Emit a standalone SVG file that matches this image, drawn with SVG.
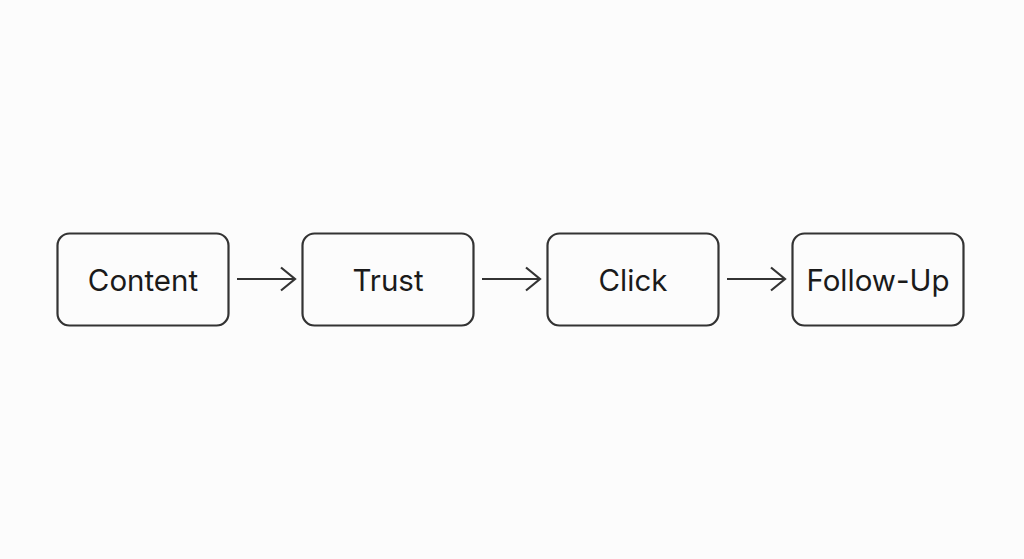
<svg xmlns="http://www.w3.org/2000/svg" width="1024" height="559" viewBox="0 0 1024 559">
<style>
.box{fill:#fcfcfc;stroke:#333;stroke-width:2.2}
.lbl{font-family:Inter,"Liberation Sans",sans-serif;font-size:29.500px;fill:#1a1a1a;text-anchor:middle}
.conn{stroke:#333;stroke-width:2.2;fill:none}
</style>
<defs>
<marker id="arr" viewBox="0 0 18 26" refX="16" refY="13" markerWidth="18" markerHeight="26" markerUnits="userSpaceOnUse" orient="auto">
<path d="M2,1.500 L16,13 L2,24.500" fill="none" stroke="#333" stroke-width="2.200"/>
</marker>
</defs>
<rect width="1024" height="559" fill="#fcfcfc"/>
<g id="n1"><rect class="box" x="57.500" y="233.500" width="171" height="92" rx="12"/><text class="lbl" x="143" y="291">Content</text></g>
<g id="n2"><rect class="box" x="302.500" y="233.500" width="171" height="92" rx="12"/><text class="lbl" x="388" y="291">Trust</text></g>
<g id="n3"><rect class="box" x="547.500" y="233.500" width="171" height="92" rx="12"/><text class="lbl" x="633" y="291">Click</text></g>
<g id="n4"><rect class="box" x="792.500" y="233.500" width="171" height="92" rx="12"/><text class="lbl" x="878" y="291">Follow-Up</text></g>
<g id="connectors">
<line class="conn" x1="237" y1="279" x2="295" y2="279" marker-end="url(#arr)"/>
<line class="conn" x1="482" y1="279" x2="540" y2="279" marker-end="url(#arr)"/>
<line class="conn" x1="727" y1="279" x2="785" y2="279" marker-end="url(#arr)"/>
</g>
</svg>
